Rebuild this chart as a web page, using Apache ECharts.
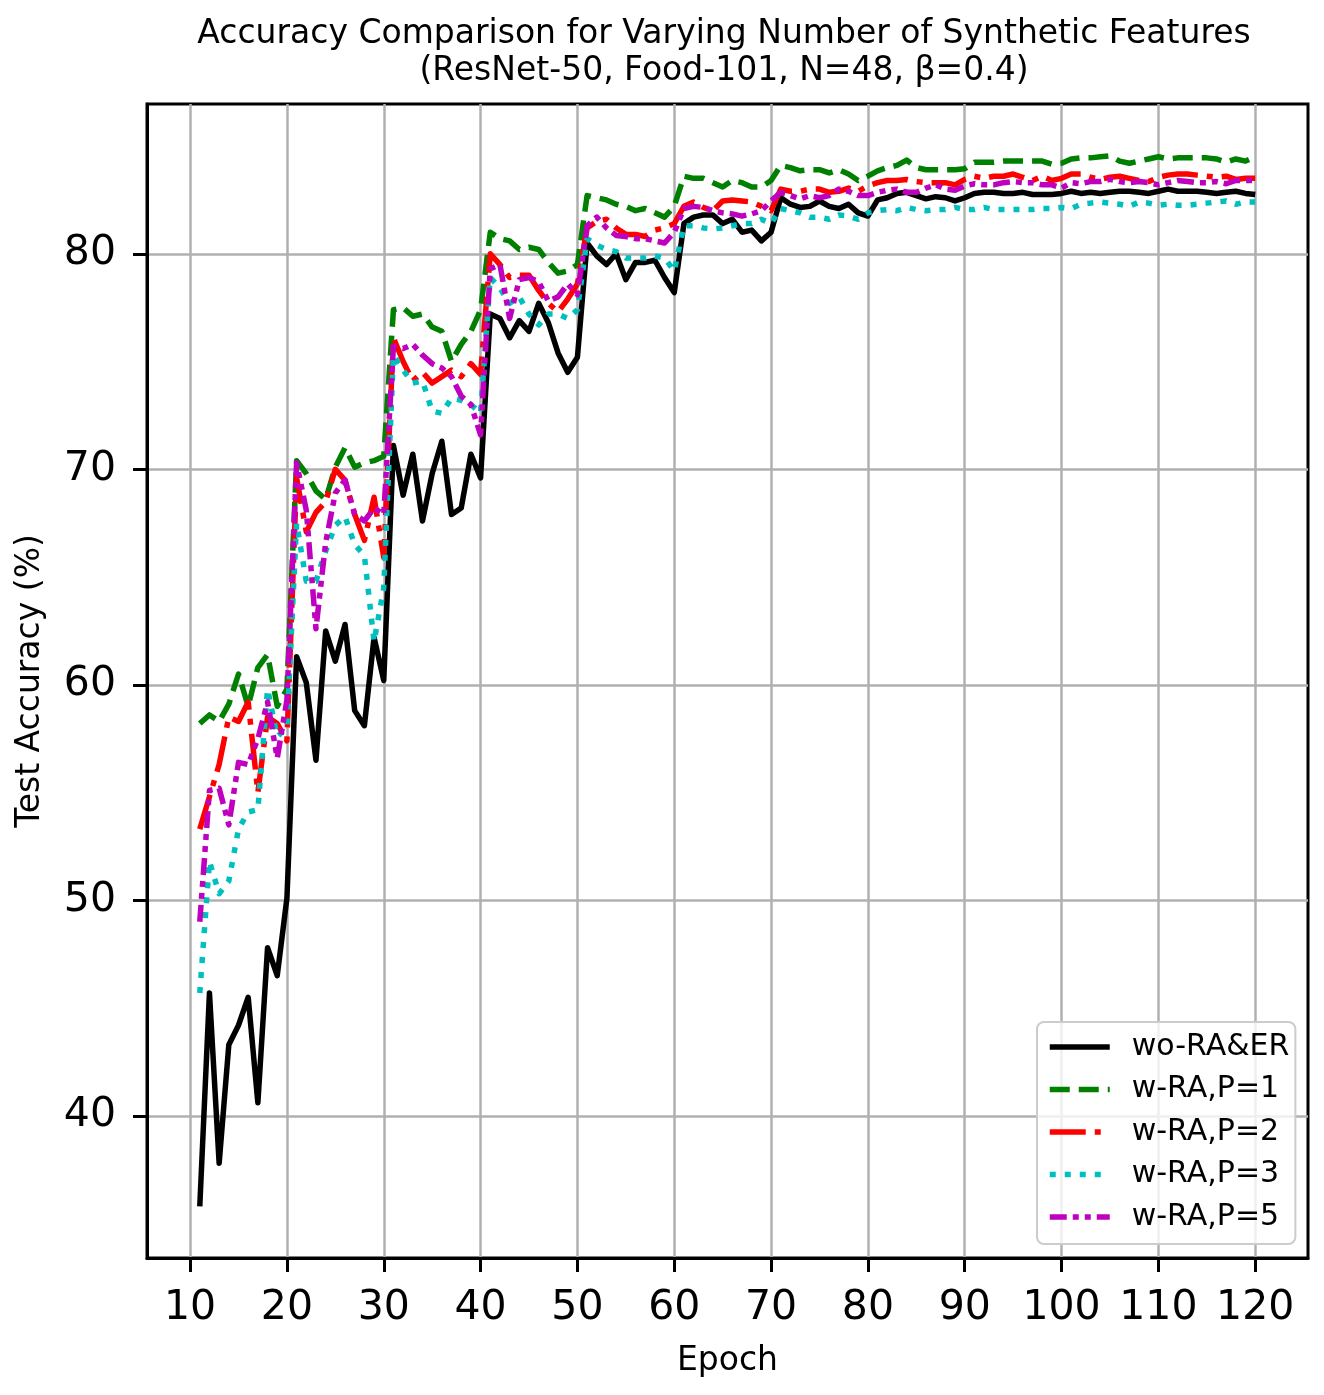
<!DOCTYPE html>
<html>
<head>
<meta charset="utf-8">
<title>Accuracy Comparison</title>
<script src="https://cdn.jsdelivr.net/npm/echarts@6/dist/echarts.min.js"></script>
<style>
  html, body { margin: 0; padding: 0; background: #fff; }
  #chart { width: 1324px; height: 1395px; }
</style>
</head>
<body>
<div id="chart"></div>
<script>
// epochs 11..120
var epochs = [];
for (var e = 11; e <= 120; e++) epochs.push(e);

var xTicks = [10, 20, 30, 40, 50, 60, 70, 80, 90, 100, 110, 120];
var yTicks = [40, 50, 60, 70, 80];

// wo-RA&ER
var woRAER = [
  35.8, 45.7, 37.8, 43.3, 44.2, 45.5, 40.6, 47.8, 46.5, 50.1,
  61.3, 60.1, 56.5, 62.5, 61.1, 62.8, 58.8, 58.1, 62.2, 60.2,
  71.1, 68.8, 70.7, 67.6, 69.8, 71.3, 67.9, 68.2, 70.7, 69.6,
  77.2, 77.0, 76.1, 76.9, 76.4, 77.7, 76.8, 75.4, 74.5, 75.2,
  80.5, 79.9, 79.5, 80.0, 78.8, 79.6, 79.6, 79.7, 78.9, 78.2,
  81.4, 81.7, 81.8, 81.8, 81.4, 81.6, 81.0, 81.1, 80.6, 81.0,
  82.6, 82.3, 82.15, 82.2, 82.45, 82.2, 82.1, 82.3, 81.9, 81.75,
  82.5, 82.6, 82.8, 82.85, 82.7, 82.55, 82.65, 82.6, 82.45, 82.6,
  82.8, 82.85, 82.85, 82.8, 82.8, 82.85, 82.75, 82.75, 82.75, 82.8,
  82.9, 82.8, 82.85, 82.8, 82.85, 82.9, 82.9, 82.85, 82.8, 82.9,
  83.0, 82.9, 82.9, 82.9, 82.85, 82.8, 82.85, 82.9, 82.8, 82.75
];
// w-RA,P=1
var wRAP1 = [
  58.2, 58.6, 58.3, 59.1, 60.5, 59.0, 60.8, 61.4, 59.0, 59.8,
  70.4, 69.8, 69.0, 68.6, 70.1, 71.0, 70.1, 70.3, 70.4, 70.6,
  77.4, 77.5, 77.1, 77.2, 76.6, 76.4, 75.0, 75.8, 76.4, 77.4,
  81.0, 80.7, 80.6, 80.2, 80.3, 80.2, 79.6, 79.1, 79.2, 79.5,
  82.7, 82.6, 82.5, 82.3, 82.2, 82.0, 82.1, 81.9, 81.7, 82.2,
  83.6, 83.5, 83.5, 83.3, 83.1, 83.4, 83.3, 83.1, 83.1, 83.4,
  84.1, 84.0, 83.85, 83.9, 83.9, 83.75, 83.9, 83.7, 83.4, 83.6,
  83.85, 84.0, 84.1, 84.35, 84.0, 83.9, 83.9, 83.9, 83.9, 83.95,
  84.25, 84.25, 84.25, 84.3, 84.3, 84.3, 84.3, 84.3, 84.15, 84.2,
  84.4, 84.45, 84.45, 84.5, 84.55, 84.3, 84.2, 84.3, 84.4, 84.5,
  84.4, 84.45, 84.45, 84.45, 84.45, 84.4, 84.25, 84.4, 84.3, 84.5
];
// w-RA,P=2
var wRAP2 = [
  53.3, 54.8, 56.3, 58.5, 58.3, 59.2, 55.0, 58.5, 58.2, 57.4,
  69.6, 67.1, 68.0, 68.5, 70.0, 69.5, 67.9, 66.7, 68.7, 65.9,
  76.1, 75.0, 74.1, 74.5, 74.0, 74.3, 74.6, 74.3, 74.9, 74.4,
  80.0, 79.5, 78.9, 79.0, 79.0, 78.3, 77.7, 77.3, 77.9, 78.6,
  81.2, 81.5, 81.6, 81.2, 80.9, 80.9, 80.8, 81.1, 81.2, 81.4,
  82.2, 82.4, 82.15, 82.0, 82.45, 82.5, 82.45, 82.4, 82.2, 82.0,
  83.0, 82.9, 82.9, 83.0, 83.0, 82.85, 82.9, 83.05, 82.9, 83.15,
  83.3, 83.4, 83.4, 83.45, 83.35, 83.3, 83.3, 83.3, 83.2, 83.45,
  83.6, 83.5, 83.6, 83.6, 83.7, 83.55, 83.4, 83.6, 83.4, 83.5,
  83.7, 83.7, 83.55, 83.45, 83.55, 83.6, 83.5, 83.4, 83.35, 83.55,
  83.65, 83.7, 83.7, 83.65, 83.6, 83.55, 83.6, 83.45, 83.5, 83.5
];
// w-RA,P=3
var wRAP3 = [
  45.7, 51.8, 50.3, 50.9, 53.3, 54.1, 54.2, 59.8, 57.6, 58.0,
  67.5, 64.8, 64.8, 66.2, 67.4, 67.8, 66.5, 66.0, 62.0, 64.5,
  75.3, 74.6, 74.0, 74.1, 72.7, 72.6, 73.3, 73.2, 73.0, 72.6,
  78.9, 78.4, 77.7, 78.0, 77.2, 76.7, 77.2, 77.2, 77.0, 77.4,
  80.7, 80.4, 80.2, 80.1, 79.8, 79.8, 79.8, 79.9, 79.8, 79.2,
  81.3, 81.3, 81.2, 81.15, 81.2, 81.3, 81.4, 81.4, 81.6, 81.4,
  82.1, 82.0, 81.9, 81.7, 81.7, 81.6, 81.8, 81.75, 81.6, 81.9,
  82.0, 82.05, 82.0, 82.15, 82.05, 82.0, 82.05, 82.05, 82.15, 82.05,
  82.05, 82.15, 82.05, 82.05, 82.05, 82.05, 82.05, 82.1, 82.1, 82.15,
  82.1, 82.3, 82.35, 82.4, 82.35, 82.3, 82.2, 82.4, 82.35, 82.25,
  82.3, 82.25, 82.25, 82.3, 82.35, 82.4, 82.45, 82.3, 82.4, 82.4
];
// w-RA,P=5
var wRAP5 = [
  49.0, 55.1, 55.2, 53.5, 56.4, 56.3, 57.5, 59.2, 56.6, 59.3,
  70.3, 68.1, 62.6, 66.6, 68.9, 69.5, 67.9, 67.6, 68.2, 67.9,
  75.7, 75.6, 75.8, 75.3, 74.9, 74.7, 74.3, 73.4, 73.0, 71.6,
  79.3, 79.5, 77.0, 78.8, 78.9, 78.7, 77.8, 78.0, 78.6, 78.1,
  81.3, 81.7, 81.2, 80.85, 80.8, 80.7, 80.7, 80.6, 80.5, 81.0,
  82.1, 82.2, 82.15, 82.0, 81.9, 81.85, 81.75, 81.85, 82.0, 82.45,
  82.85, 82.7, 82.55, 82.7, 82.6, 82.7, 83.0, 82.9, 82.7, 82.7,
  82.85, 82.95, 83.0, 82.85, 82.85, 83.05, 83.2, 83.0, 82.95, 83.15,
  83.25, 83.2, 83.2, 83.3, 83.35, 83.3, 83.3, 83.2, 83.2, 83.05,
  83.3, 83.25, 83.35, 83.35, 83.45, 83.35, 83.3, 83.35, 83.3, 83.2,
  83.3, 83.4, 83.35, 83.3, 83.3, 83.35, 83.25, 83.4, 83.4, 83.4
];

var seriesNames = ['wo-RA&ER', 'w-RA,P=1', 'w-RA,P=2', 'w-RA,P=3', 'w-RA,P=5'];
var seriesValues = [woRAER, wRAP1, wRAP2, wRAP3, wRAP5];
var seriesColors = ['#000000', '#008000', '#ff0000', '#00bfbf', '#bf00bf'];
// solid, dashed, dash-dot, dotted, dash-dot-dot
var seriesDash = ['solid', [20, 9], [36, 9, 6, 9], [6, 9], [17, 6, 6, 6, 6, 6]];

function pairs(vals) {
  return epochs.map(function (ep, i) { return [ep, vals[i]]; });
}

var FONT = 'DejaVu Sans';
var chart = echarts.init(document.getElementById('chart'), null, { renderer: 'canvas' });

var series = seriesNames.map(function (name, i) {
  return {
    name: name,
    type: 'line',
    data: pairs(seriesValues[i]),
    symbol: 'none',
    smooth: false,
    animation: false,
    lineStyle: {
      color: seriesColors[i],
      width: 5.5,
      type: seriesDash[i],
      join: 'round'
    },
    itemStyle: { color: seriesColors[i] },
    z: 3 + i
  };
});

chart.setOption({
  backgroundColor: '#ffffff',
  animation: false,
  title: {
    text: 'Accuracy Comparison for Varying Number of Synthetic Features\n(ResNet-50, Food-101, N=48, β=0.4)',
    left: 719,
    top: 11,
    textAlign: 'center',
    textStyle: {
      fontFamily: FONT,
      fontSize: 33,
      fontWeight: 'normal',
      color: '#000',
      lineHeight: 37
    }
  },
  grid: {
    left: 147,
    top: 104,
    width: 1161,
    height: 1154,
    show: true,
    borderColor: '#000',
    borderWidth: 3,
    backgroundColor: 'transparent'
  },
  legend: {
    left: 1037,
    top: 1022,
    orient: 'vertical',
    data: seriesNames,
    itemWidth: 60,
    itemHeight: 14,
    itemGap: 8.5,
    padding: [8, 6, 10, 10],
    backgroundColor: 'rgba(255,255,255,0.8)',
    borderColor: '#cccccc',
    borderWidth: 2,
    borderRadius: 7,
    itemStyle: { opacity: 0 },
    lineStyle: { width: 5.5, type: 'inherit', color: 'inherit' },
    textStyle: {
      fontFamily: FONT,
      fontSize: 30,
      color: '#000',
      lineHeight: 34,
      padding: [0, 0, 0, 17]
    }
  },
  xAxis: {
    type: 'value',
    min: 5.55,
    max: 125.45,
    name: 'Epoch',
    nameLocation: 'middle',
    nameGap: 87,
    nameTextStyle: { fontFamily: FONT, fontSize: 33, color: '#000' },
    axisLine: { show: true, onZero: false, lineStyle: { color: '#000', width: 3 } },
    axisTick: { show: true, inside: false, length: 14, lineStyle: { color: '#000', width: 3 }, customValues: xTicks },
    axisLabel: { fontFamily: FONT, fontSize: 41, color: '#000', margin: 30, customValues: xTicks },
    splitLine: { show: true, lineStyle: { color: '#b0b0b0', width: 2.5 } }
  },
  yAxis: {
    type: 'value',
    min: 33.4,
    max: 86.95,
    name: 'Test Accuracy (%)',
    nameLocation: 'middle',
    nameGap: 100,
    nameTextStyle: { fontFamily: FONT, fontSize: 33, color: '#000' },
    axisLine: { show: true, onZero: false, lineStyle: { color: '#000', width: 3 } },
    axisTick: { show: true, inside: false, length: 14, lineStyle: { color: '#000', width: 3 }, customValues: yTicks },
    axisLabel: { fontFamily: FONT, fontSize: 41, color: '#000', margin: 31, customValues: yTicks },
    splitLine: { show: true, lineStyle: { color: '#b0b0b0', width: 2.5 } }
  },
  series: series
});
</script>
</body>
</html>
